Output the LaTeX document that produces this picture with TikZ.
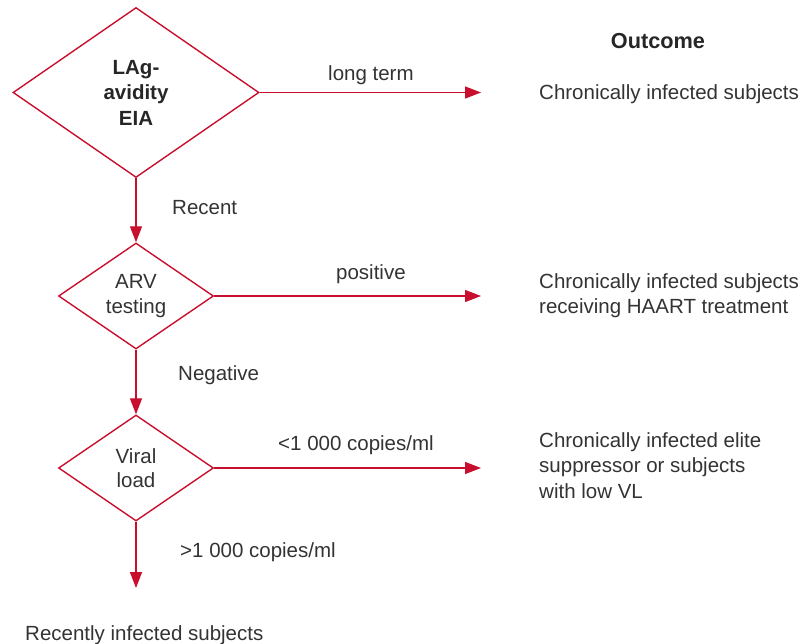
\documentclass[tikz,border=0pt]{standalone}
\usepackage{fontspec}
\setmainfont{Liberation Sans}
\usetikzlibrary{shapes.geometric,arrows.meta}
\definecolor{flowred}{HTML}{C8102E}
\definecolor{txt}{HTML}{333333}
\begin{document}
\begin{tikzpicture}[x=1pt,y=-1pt,
  decision/.style={diamond, draw=flowred, line width=1.4pt, inner sep=0pt, text=txt, align=center},
  flow/.style={draw=flowred, line width=1.4pt, -{Triangle[length=16pt,width=12pt]}},
  lbl/.style={text=txt, inner sep=0pt, align=left, font=\fontsize{20.5}{25.5}\selectfont}]
\useasboundingbox (0,0) rectangle (801,644);
% decisions
\node[decision, minimum width=246pt, minimum height=170pt, font=\fontsize{20.5}{25.5}\selectfont\bfseries, text=black!85] (d1) at (136,92.5) {LAg-\\avidity\\EIA};
\node[decision, minimum width=155pt, minimum height=106pt, font=\fontsize{20.5}{24.5}\selectfont] (d2) at (136,296) {ARV\\testing};
\node[decision, minimum width=155pt, minimum height=106pt, font=\fontsize{20.5}{24.5}\selectfont] (d3) at (136,468) {Viral\\load};
% free ends
\coordinate (e1) at (481,92.5);
\coordinate (e2) at (481,296);
\coordinate (e3) at (481,468);
\coordinate (e4) at (136,588);
% connectors
\draw[flow] (d1.east) -- (e1);
\draw[flow] (d1.south) -- (d2.north);
\draw[flow] (d2.east) -- (e2);
\draw[flow] (d2.south) -- (d3.north);
\draw[flow] (d3.east) -- (e3);
\draw[flow] (d3.south) -- (e4);
% connector labels
\node[lbl, anchor=base west] (l1) at (328,81) {long term};
\node[lbl, anchor=base west] (l2) at (172,215) {Recent};
\node[lbl, anchor=base west] (l3) at (336,280) {positive};
\node[lbl, anchor=base west] (l4) at (178,381) {Negative};
\node[lbl, anchor=base west] (l5) at (278,450) {<1 000 copies/ml};
\node[lbl, anchor=base west] (l6) at (180,557) {>1 000 copies/ml};
% outcomes
\node[lbl, anchor=base, font=\fontsize{21.7}{26}\selectfont\bfseries, text=black!85] (oh) at (658,49) {Outcome};
\node[lbl, anchor=base west] (o1) at (539,100) {Chronically infected subjects};
\node[lbl, anchor=north west] (o2) at (539,273.3) {Chronically infected subjects\\receiving HAART treatment};
\node[lbl, anchor=north west] (o3) at (539,432.3) {Chronically infected elite\\suppressor or subjects\\with low VL};
\node[lbl, anchor=base west] (o4) at (25,640) {Recently infected subjects};
\end{tikzpicture}
\end{document}
